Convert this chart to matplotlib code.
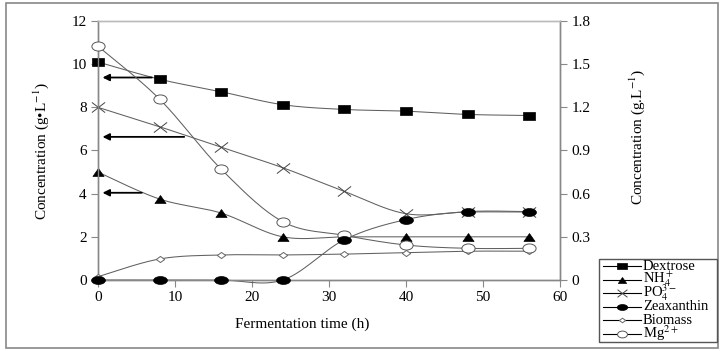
import numpy as np
import matplotlib
matplotlib.use("Agg")
import matplotlib.pyplot as plt
from matplotlib.path import Path
from matplotlib.lines import Line2D
from matplotlib.patches import Rectangle

plt.rcParams['font.family'] = ['Liberation Serif', 'DejaVu Serif']
plt.rcParams['mathtext.fontset'] = 'stix'

time_h = [0, 8, 16, 24, 32, 40, 48, 56]
# left axis (g/L)
dextrose = [10.1, 9.3, 8.72, 8.12, 7.9, 7.82, 7.67, 7.62]
nh4 = [5.0, 3.75, 3.1, 2.0, 2.0, 2.0, 2.0, 2.0]
po4 = [8.0, 7.1, 6.15, 5.2, 4.1, 3.07, 3.15, 3.15]
# right axis (g/L)
zeaxanthin = [0.0, 0.0, 0.0, 0.0, 0.28, 0.42, 0.475, 0.475]
biomass = [0.023, 0.146, 0.174, 0.174, 0.18, 0.19, 0.2, 0.2]
mg = [1.625, 1.257, 0.77, 0.405, 0.31, 0.243, 0.22, 0.22]

left_ticks = [0, 2, 4, 6, 8, 10, 12]
right_ticks = [0, 0.3, 0.6, 0.9, 1.2, 1.5, 1.8]
right_tick_labels = ["0", "0.3", "0.6", "0.9", "1.2", "1.5", "1.8"]
x_ticks = [0, 10, 20, 30, 40, 50, 60]
legend_labels = ['Dextrose', 'NH$_4^+$', 'PO$_4^{3-}$', 'Zeaxanthin', 'Biomass', 'Mg$^{2+}$']

# arrows: (start_x, end_x, y) in left-axis data coords
arrows = [(7.0, 0.6, 9.38), (11.2, 0.6, 6.63), (5.7, 0.6, 4.04)]


def smooth(x, y, n=30):
    P = np.column_stack([x, y]).astype(float)
    Pm = np.vstack([P[0], P, P[-1]])
    out = []
    for i in range(len(P) - 1):
        p0, p1, p2, p3 = Pm[i], Pm[i + 1], Pm[i + 2], Pm[i + 3]
        b1 = p1 + (p2 - p0) / 6.0
        b2 = p2 - (p3 - p1) / 6.0
        t = np.linspace(0, 1, n)[:, None]
        seg = ((1 - t) ** 3) * p1 + 3 * ((1 - t) ** 2) * t * b1 + 3 * (1 - t) * t ** 2 * b2 + t ** 3 * p2
        out.append(seg if i == 0 else seg[1:])
    s = np.vstack(out)
    return s[:, 0], s[:, 1]


def stretched(path, sx, sy=1.0):
    return Path(path.vertices * np.array([sx, sy]), path.codes)

circ = Path.unit_circle()
m_rect = Path([(-0.85, -0.5), (0.85, -0.5), (0.85, 0.5), (-0.85, 0.5), (-0.85, -0.5)],
              [Path.MOVETO, Path.LINETO, Path.LINETO, Path.LINETO, Path.CLOSEPOLY])
m_tri = Path([(-0.7, -0.5), (0.7, -0.5), (0.0, 0.5), (-0.7, -0.5)],
             [Path.MOVETO, Path.LINETO, Path.LINETO, Path.CLOSEPOLY])
m_zea = stretched(circ, 1.75)
m_mg = stretched(circ, 1.45)
m_dia = Path([(0, -0.5), (0.68, 0), (0, 0.5), (-0.68, 0), (0, -0.5)],
             [Path.MOVETO, Path.LINETO, Path.LINETO, Path.LINETO, Path.CLOSEPOLY])
m_x = Path([(-0.65, -0.5), (0.65, 0.5), (-0.65, 0.5), (0.65, -0.5)],
           [Path.MOVETO, Path.LINETO, Path.MOVETO, Path.LINETO])

W, H = 720, 351
fig = plt.figure(figsize=(7.2, 3.51), dpi=100)
fig.patches.append(Rectangle((0.009, 0.009), 0.988, 0.983, transform=fig.transFigure,
                             fill=False, edgecolor='#888888', lw=1.2))
ax = fig.add_axes([0.136, 0.2023, 0.642, 0.738])
ax2 = ax.twinx()

lc = '#606060'
lw = 0.75

styles = {
    'Dextrose': dict(marker=m_rect, ms=9, mfc='black', mec='black', mew=0.5),
    'NH4': dict(marker=m_tri, ms=8, mfc='black', mec='black', mew=0.5),
    'PO4': dict(marker=m_x, ms=9.5, mfc='none', mec='#444444', mew=0.7),
    'Zea': dict(marker=m_zea, ms=10, mfc='black', mec='black', mew=0.5),
    'Bio': dict(marker=m_dia, ms=6, mfc='white', mec='#666666', mew=0.7),
    'Mg': dict(marker=m_mg, ms=9.5, mfc='white', mec='#555555', mew=0.7),
}
keys = ['Dextrose', 'NH4', 'PO4', 'Zea', 'Bio', 'Mg']

for a, ys, key in [(ax, dextrose, 'Dextrose'), (ax, nh4, 'NH4'), (ax, po4, 'PO4'),
                   (ax2, biomass, 'Bio'), (ax2, mg, 'Mg'), (ax2, zeaxanthin, 'Zea')]:
    sx, sy = smooth(time_h, ys)
    a.plot(sx, sy, color=lc, lw=lw, zorder=2, clip_on=False)
    a.plot(time_h, ys, ls='none', zorder=3, clip_on=False, **styles[key])

for x0, x1, y in arrows:
    ax.annotate('', xy=(x1, y), xytext=(x0, y),
                arrowprops=dict(arrowstyle='-|>', color='black', lw=1.3,
                                mutation_scale=10, shrinkA=0, shrinkB=0))

ax.set_xlim(0, 60)
ax.set_ylim(0, 12)
ax2.set_ylim(0, 1.8)
ax.set_xticks(x_ticks)
ax.set_yticks(left_ticks)
ax2.set_yticks(right_ticks)
ax2.set_yticklabels(right_tick_labels)

for a in (ax, ax2):
    for s in a.spines.values():
        s.set_color('#888888')
        s.set_linewidth(1.0)
    a.spines['top'].set_color('#bbbbbb')
ax.tick_params(axis='both', direction='out', length=5, width=0.8, color='#888888',
               labelsize=11, pad=3)
ax2.tick_params(axis='y', direction='out', length=5, width=0.8, color='#888888',
                labelsize=11, pad=3)

fig.text(0.057, 0.57, 'Concentration (g•L$^{-1}$)', rotation=90, ha='center', va='center', fontsize=11)
fig.text(0.885, 0.61, 'Concentration (g.L$^{-1}$)', rotation=90, ha='center', va='center', fontsize=11)
fig.text(0.42, 0.075, 'Fermentation time (h)', ha='center', va='center', fontsize=11)

# manual legend (pixel layout converted to figure fraction)
box_l, box_t, box_r, box_b = 599, 259, 717, 342
fig.patches.append(Rectangle((box_l / W, 1 - box_b / H), (box_r - box_l) / W, (box_b - box_t) / H,
                             transform=fig.transFigure, fill=True, facecolor='white',
                             edgecolor='#555555', lw=1.0, zorder=5))
row_y = [266, 279.5, 293, 306.5, 320, 333.5]
for key, lab, ypx in zip(keys, legend_labels, row_y):
    st = styles[key].copy()
    ms = st.pop('ms')
    yf = 1 - ypx / H
    fig.add_artist(Line2D([603 / W, 641 / W], [yf, yf], transform=fig.transFigure,
                          color='black', lw=0.8, zorder=6))
    fig.add_artist(Line2D([622 / W], [yf], transform=fig.transFigure, ls='none',
                          ms=ms * 0.75, zorder=7, **st))
    fig.text(643 / W, yf, lab, ha='left', va='center', fontsize=10.5, zorder=7)

fig.savefig('out.png', dpi=100)
